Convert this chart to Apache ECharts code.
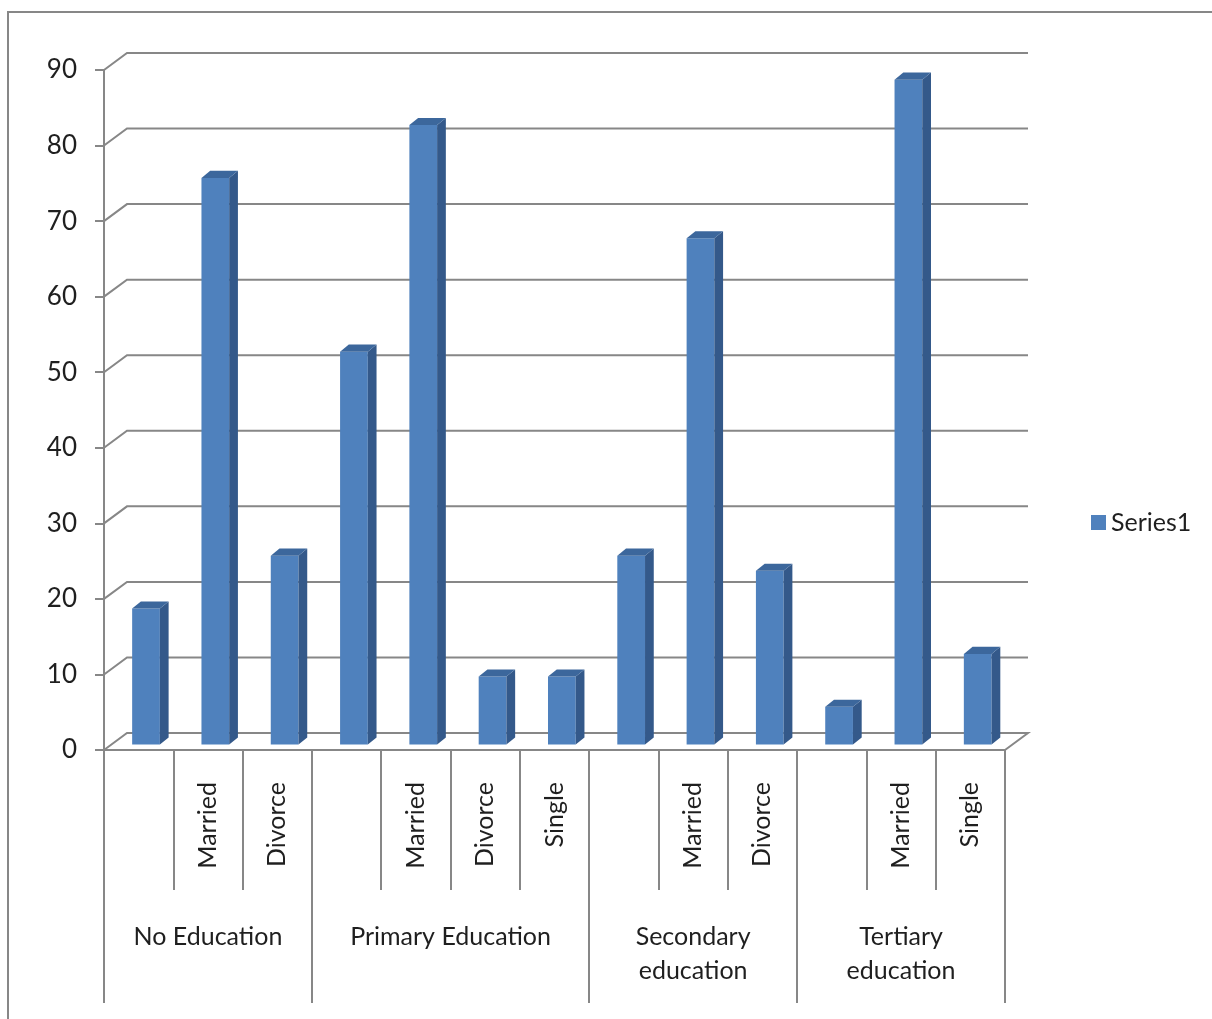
<!DOCTYPE html>
<html>
<head>
<meta charset="utf-8">
<script src="https://cdn.jsdelivr.net/npm/echarts@6/dist/echarts.min.js"></script>
<style>
  html, body { margin: 0; padding: 0; background: #fff; }
  #chart { width: 1212px; height: 1019px; }
</style>
</head>
<body>
<div id="chart"></div>
<script>
var chart = echarts.init(document.getElementById('chart'));

// inner level of the category axis (blank = first status in each group)
const statusLabels = ['', 'Married', 'Divorce', '', 'Married', 'Divorce', 'Single', '', 'Married', 'Divorce', '', 'Married', 'Single'];
const values = [18, 75, 25, 52, 82, 9, 9, 25, 67, 23, 5, 88, 12];
const groups = ['No Education', 'Primary Education', 'Secondary\neducation', 'Tertiary\neducation'];
const groupSizes = [3, 4, 3, 3];
const yTicks = [0, 10, 20, 30, 40, 50, 60, 70, 80, 90];

const gray = '#878787';
const font = 'Lato';

// group boundaries and centres on a 0..13 scale
var groupBounds = [0];
var groupCenters = [];
groupSizes.forEach(function (n) {
  var start = groupBounds[groupBounds.length - 1];
  groupCenters.push(start + n / 2);
  groupBounds.push(start + n);
});

// 3d look: wall depth and bar placement
const wallDx = 23, wallDy = 17;
const barShift = 0.32, barDepth = 0.38;

function renderWall(params, api) {
  var cs = params.coordSys;
  var y = api.coord([0, api.value(1)])[1];
  var left = cs.x, right = cs.x + cs.width;
  var pts = [[left, y], [left + wallDx, y - wallDy], [right + wallDx, y - wallDy]];
  if (api.value(1) === 0) pts.push([right, y]);
  return {
    type: 'polyline',
    shape: { points: pts },
    style: { stroke: gray, lineWidth: 2, fill: null }
  };
}

function renderBar(params, api) {
  var i = api.value(0), v = api.value(1);
  var base = api.coord([i, 0]);
  var top = api.coord([i, v]);
  var w = api.size([1, 0])[0] * 0.4;
  var sx = wallDx * barShift, sy = -wallDy * barShift;
  var dx = wallDx * barDepth, dy = -wallDy * barDepth * 1.1;
  var x0 = base[0] - w / 2 + sx, x1 = x0 + w;
  var yt = top[1] + sy, yb = base[1] + sy;
  return {
    type: 'group',
    children: [
      { type: 'rect', shape: { x: x0, y: yt, width: w, height: yb - yt },
        style: { fill: '#4F81BD' } },
      { type: 'polygon', shape: { points: [[x1, yt], [x1 + dx, yt + dy], [x1 + dx, yb + dy], [x1, yb]] },
        style: { fill: '#34598A' } },
      { type: 'polygon', shape: { points: [[x0, yt], [x0 + dx, yt + dy], [x1 + dx, yt + dy], [x1, yt]] },
        style: { fill: '#3C679C' } }
    ]
  };
}

var option = {
  animation: false,
  textStyle: { fontFamily: font },
  graphic: [{
    type: 'rect',
    shape: { x: 8, y: 12, width: 1230, height: 1040 },
    style: { fill: null, stroke: gray, lineWidth: 2 },
    silent: true
  }],
  legend: {
    data: ['Series1'],
    left: 1086,
    top: 505,
    orient: 'vertical',
    icon: 'rect',
    itemWidth: 15,
    itemHeight: 15,
    itemGap: 6,
    textStyle: { fontSize: 25, color: '#1f1f1f', fontFamily: font }
  },
  grid: { left: 104, top: 70, width: 901, height: 680 },
  xAxis: [{
    type: 'category',
    data: statusLabels,
    axisLine: { show: true, lineStyle: { color: gray, width: 2 } },
    axisTick: { show: true, interval: 0, alignWithLabel: false, length: 140, lineStyle: { color: gray, width: 2 } },
    axisLabel: { interval: 0, rotate: 90, margin: 32, fontSize: 25, color: '#1f1f1f', fontFamily: font }
  }, {
    type: 'value',
    position: 'bottom',
    min: 0,
    max: 13,
    axisLine: { show: false },
    splitLine: { show: false },
    axisTick: { show: true, customValues: groupBounds, length: 253, lineStyle: { color: gray, width: 2 } },
    axisLabel: {
      customValues: groupCenters,
      margin: 170,
      fontSize: 25,
      lineHeight: 34,
      verticalAlign: 'top',
      color: '#1f1f1f',
      fontFamily: font,
      formatter: function (val) {
        var k = groupCenters.indexOf(val);
        return k >= 0 ? groups[k] : '';
      }
    }
  }],
  yAxis: {
    type: 'value',
    min: 0,
    max: 90,
    interval: 10,
    axisLine: { show: true, lineStyle: { color: gray, width: 2 } },
    axisTick: { show: true, length: 9, lineStyle: { color: gray, width: 2 } },
    splitLine: { show: false },
    axisLabel: { margin: 27, fontSize: 26, color: '#1f1f1f', fontFamily: font }
  },
  series: [{
    type: 'custom',
    name: 'walls',
    silent: true,
    clip: false,
    z: 1,
    renderItem: renderWall,
    data: yTicks.map(function (t) { return [0, t]; })
  }, {
    type: 'custom',
    name: 'Series1',
    clip: false,
    z: 3,
    itemStyle: { color: '#4F81BD' },
    renderItem: renderBar,
    data: values.map(function (v, i) { return [i, v]; })
  }]
};

chart.setOption(option);
</script>
</body>
</html>
